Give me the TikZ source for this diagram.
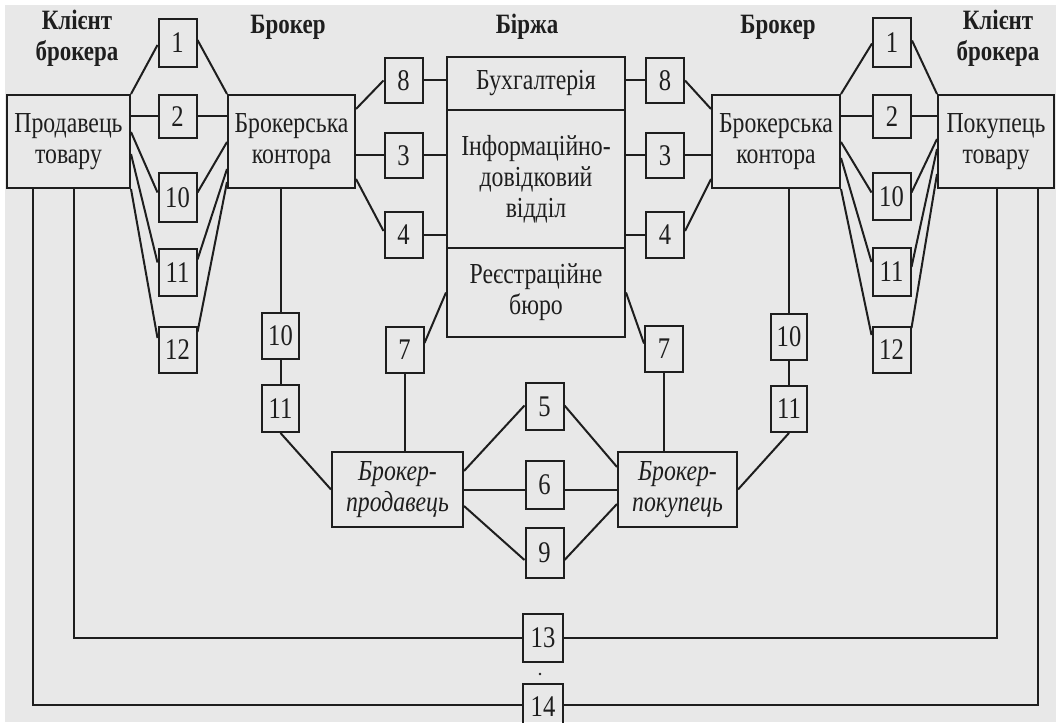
\documentclass[tikz,border=0pt]{standalone}
\usepackage{fontspec}
\setmainfont{Liberation Serif}[FakeStretch=0.82]
\usetikzlibrary{calc}
\definecolor{ink}{RGB}{30,30,30}
\definecolor{paper}{RGB}{232,232,232}
\newcommand\lblfont{\fontsize{29}{31}\selectfont}
\newcommand\numfont{\fontsize{30}{31}\selectfont}
\newcommand\hdrfont{\fontsize{28}{31}\selectfont\bfseries}
\tikzset{
  ln/.style={line width=2pt, draw=ink},
  bigbox/.style={draw=ink, line width=2pt, inner sep=0pt, align=center, font=\lblfont, text=ink},
  itbox/.style={draw=ink, line width=2pt, inner sep=0pt, align=center, font=\lblfont\itshape, text=ink},
  nbox/.style={draw=ink, line width=2pt, inner sep=0pt, minimum width=38pt, minimum height=46pt, font=\numfont, text=ink},
  hdr/.style={align=center, font=\hdrfont, text=ink, inner sep=0pt},
}
\begin{document}
\begin{tikzpicture}[x=1pt,y=-1pt]
\useasboundingbox (0,0) rectangle (1056,722);
\fill[white] (0,0) rectangle (1056,722);
\fill[paper] (5,5) rectangle (1056,722);
\clip (0,0) rectangle (1056,722);

% headers
\node[hdr] (hcl) at (77,38) {Клієнт\\брокера};
\node[hdr] (hbl) at (288,27) {Брокер};
\node[hdr] (hb)  at (527,27) {Біржа};
\node[hdr] (hbr) at (778,27) {Брокер};
\node[hdr] (hcr) at (998,38) {Клієнт\\брокера};

% big boxes
\node[bigbox, minimum width=123pt, minimum height=93pt] (cl) at (68.5,141.5) {Продавець\\товару};
\node[bigbox, minimum width=127pt, minimum height=93pt] (bl) at (291.5,141.5) {Брокерська\\контора};
\node[bigbox, minimum width=128pt, minimum height=93pt] (br) at (776,141.5) {Брокерська\\контора};
\node[bigbox, minimum width=116pt, minimum height=93pt] (cr) at (996,141.5) {Покупець\\товару};
\node[bigbox, minimum width=178pt, minimum height=53pt] (buh) at (536,83.5) {Бухгалтерія};
\node[bigbox, minimum width=178pt, minimum height=138pt] (inf) at (536,179) {Інформаційно-\\довідковий\\відділ};
\node[bigbox, minimum width=178pt, minimum height=89pt] (reg) at (536,292.5) {Реєстраційне\\бюро};
\node[itbox, minimum width=131pt, minimum height=75pt] (bp) at (397.5,489.5) {Брокер-\\продавець};
\node[itbox, minimum width=119pt, minimum height=75pt] (bk) at (677.5,489.5) {Брокер-\\покупець};

% left fan boxes
\node[nbox, minimum height=48pt] (L1) at (177.5,43) {1};
\node[nbox, minimum height=43pt] (L2) at (177.5,116.5) {2};
\node[nbox, minimum height=49pt] (L10) at (177.5,197.5) {10};
\node[nbox, minimum height=47pt] (L11) at (177.5,272.5) {11};
\node[nbox] (L12) at (177.5,350) {12};
% right fan boxes
\node[nbox, minimum height=49pt] (R1) at (892,42.5) {1};
\node[nbox, minimum height=43pt] (R2) at (892,116.5) {2};
\node[nbox, minimum height=47pt] (R10) at (891.5,196.5) {10};
\node[nbox, minimum height=48pt] (R11) at (891.5,272) {11};
\node[nbox] (R12) at (891.5,350) {12};
% exchange boxes
\node[nbox, minimum height=45pt] (S8L) at (403.5,80.5) {8};
\node[nbox, minimum height=45pt] (S3L) at (403.5,155.5) {3};
\node[nbox, minimum height=46pt] (S4L) at (403.5,235) {4};
\node[nbox, minimum height=45pt] (S8R) at (665,80.5) {8};
\node[nbox, minimum height=45pt] (S3R) at (665,155.5) {3};
\node[nbox, minimum height=46pt] (S4R) at (665,235) {4};
\node[nbox] (S7L) at (404.5,350) {7};
\node[nbox] (S7R) at (664,348.5) {7};
% lower columns
\node[nbox, minimum width=37pt] (BL10) at (280.5,336) {10};
\node[nbox, minimum width=37pt, minimum height=47pt] (BL11) at (280.5,408.5) {11};
\node[nbox, minimum width=36pt] (BR10) at (789,337) {10};
\node[nbox, minimum width=36pt] (BR11) at (789,409) {11};
% trade boxes
\node[nbox, minimum height=47pt] (S5) at (544.5,406.5) {5};
\node[nbox, minimum height=48pt] (S6) at (544.5,485) {6};
\node[nbox, minimum height=50pt] (S9) at (544.5,553) {9};
\node[nbox, minimum width=40pt, minimum height=48pt] (S13) at (543,638) {13};
\node[nbox, minimum width=40pt, minimum height=46pt] (S14) at (543,707) {14};

% left fan
\draw[ln] (cl.north east) -- ($(L1.west)+(0,2)$);
\draw[ln] ($(L1.east)+(0,-3)$) -- (bl.north west);
\draw[ln] (L2.west -| cl.east) -- (L2.west);
\draw[ln] (L2.east) -- (L2.east -| bl.west);
\draw[ln] ($(cl.north east)+(0,38)$) -- ($(L10.west)+(0,-5)$);
\draw[ln] ($(L10.east)+(0,-5)$) -- ($(bl.north west)+(0,48)$);
\draw[ln] ($(cl.north east)+(0,60)$) -- ($(L11.west)+(0,-10)$);
\draw[ln] ($(L11.east)+(0,-13)$) -- ($(bl.north west)+(0,75)$);
\draw[ln] (cl.south east) -- ($(L12.west)+(0,-12)$);
\draw[ln] ($(L12.east)+(0,-18)$) -- ($(bl.north west)+(0,88)$);
% right fan
\draw[ln] (br.north east) -- ($(R1.west)+(0,1)$);
\draw[ln] ($(R1.east)+(0,-2)$) -- (cr.north west);
\draw[ln] (R2.west -| br.east) -- (R2.west);
\draw[ln] (R2.east) -- (R2.east -| cr.west);
\draw[ln] ($(br.north east)+(0,48)$) -- ($(R10.west)+(0,-4)$);
\draw[ln] ($(R10.east)+(0,-4)$) -- ($(cr.north west)+(0,45)$);
\draw[ln] ($(br.north east)+(0,64)$) -- ($(R11.west)+(0,-10)$);
\draw[ln] ($(R11.east)+(0,-5)$) -- ($(cr.north west)+(0,55)$);
\draw[ln] (br.south east) -- ($(R12.west)+(0,-15)$);
\draw[ln] ($(R12.east)+(0,-22)$) -- ($(cr.north west)+(0,80)$);

% broker offices to exchange
\draw[ln] ($(bl.north east)+(0,15)$) -- (S8L.west);
\draw[ln] (S8L.east) -- (S8L.east -| buh.west);
\draw[ln] (S3L.west -| bl.east) -- (S3L.west);
\draw[ln] (S3L.east) -- (S3L.east -| inf.west);
\draw[ln] ($(bl.north east)+(0,85)$) -- ($(S4L.west)+(0,-4)$);
\draw[ln] (S4L.east) -- (S4L.east -| inf.west);
\draw[ln] (S8R.west -| buh.east) -- (S8R.west);
\draw[ln] (S8R.east) -- ($(br.north west)+(0,15)$);
\draw[ln] (S3R.west -| inf.east) -- (S3R.west);
\draw[ln] (S3R.east) -- (S3R.east -| br.west);
\draw[ln] (S4R.west -| inf.east) -- (S4R.west);
\draw[ln] ($(S4R.east)+(0,-4)$) -- ($(br.north west)+(0,85)$);

% registration bureau
\draw[ln] ($(S7L.east)+(0,-7)$) -- (reg.west);
\draw[ln] (reg.east) -- ($(S7R.west)+(0,-5)$);
\draw[ln] (S7L.south) -- (S7L.south |- bp.north);
\draw[ln] (S7R.south) -- (S7R.south |- bk.north);

% lower broker columns
\draw[ln] (BL10.north |- bl.south) -- (BL10.north);
\draw[ln] (BL10.south) -- (BL11.north);
\draw[ln] (BL11.south) -- (bp.west);
\draw[ln] (BR10.north |- br.south) -- (BR10.north);
\draw[ln] (BR10.south) -- (BR11.north);
\draw[ln] (BR11.south) -- (bk.east);

% trade links
\draw[ln] ($(bp.north east)+(0,20)$) -- ($(S5.west)+(0,-1)$);
\draw[ln] ($(S5.east)+(0,-1)$) -- ($(bk.north west)+(0,16)$);
\draw[ln] (bp.east) -- (bp.east -| S6.west);
\draw[ln] (bp.east -| S6.east) -- (bp.east -| bk.west);
\draw[ln] ($(bp.south east)+(0,-22)$) -- ($(S9.west)+(0,7)$);
\draw[ln] ($(S9.east)+(0,7)$) -- ($(bk.south west)+(0,-24)$);

% client to client direct links
\draw[ln] ($(cl.south west)+(68,0)$) |- (S13.west);
\draw[ln] (S13.east) -| ($(cr.south west)+(60,0)$);
\draw[ln] ($(cl.south west)+(27,0)$) |- ($(S14.west)+(0,-2)$);
\draw[ln] ($(S14.east)+(0,-2)$) -| ($(cr.south west)+(101,0)$);
\fill[ink] (540,674) circle (1.3pt);
\end{tikzpicture}
\end{document}
